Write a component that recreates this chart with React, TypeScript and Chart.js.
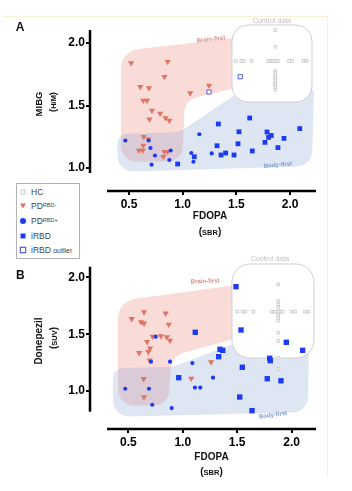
import React, { useEffect, useRef } from 'react';
import { Chart, registerables } from 'chart.js';

Chart.register(...registerables);

const FONT = "'Liberation Sans', Arial, Helvetica, sans-serif";
const BLUE = '#1d3cf2';
const SALMON = '#df7464';

const X_TICKS = [0.5, 1.0, 1.5, 2.0];
const Y_TICKS = [1.0, 1.5, 2.0];

// ---------- Panel A : MIBG vs FDOPA ----------
const A_PDNEG_X = [0.52, 0.86, 0.83, 0.605, 0.686, 1.245, 1.07, 0.633, 0.668, 0.714, 0.79, 0.69, 0.84, 0.875, 0.637, 0.68, 0.633, 0.593, 0.627, 0.83, 0.86, 0.82];
const A_PDNEG_Y = [1.84, 1.85, 1.73, 1.65, 1.64, 1.66, 1.60, 1.54, 1.54, 1.46, 1.435, 1.39, 1.40, 1.38, 1.25, 1.23, 1.18, 1.14, 1.14, 1.13, 1.13, 1.09];
const A_PDPOS_X = [0.466, 0.683, 0.70, 0.742, 0.71, 0.888, 0.876, 1.155, 1.08, 1.10, 1.27];
const A_PDPOS_Y = [1.22, 1.22, 1.16, 1.10, 1.027, 1.14, 1.064, 1.27, 1.12, 1.05, 1.117];
const A_IRBD_X = [0.953, 1.108, 1.332, 1.32, 1.357, 1.40, 1.524, 1.515, 1.478, 1.624, 1.648, 1.785, 1.825, 1.80, 1.766, 1.887, 1.943, 2.09];
const A_IRBD_Y = [1.032, 1.09, 1.352, 1.178, 1.104, 1.12, 1.29, 1.194, 1.104, 1.40, 1.136, 1.288, 1.26, 1.245, 1.205, 1.163, 1.237, 1.315];
const A_OUTLIER_X = [1.245, 1.536];
const A_OUTLIER_Y = [1.608, 1.73];
const A_HC_X = [1.494, 1.546, 1.568, 1.642, 1.797, 1.819, 1.841, 1.862, 1.885, 1.99, 2.018, 2.125, 2.155,
  1.862, 1.862, 1.862, 1.862, 1.862, 1.862, 1.862, 1.862, 1.862, 1.862, 1.862];
const A_HC_Y = [1.856, 1.856, 1.856, 1.856, 1.856, 1.856, 1.856, 1.856, 1.856, 1.856, 1.856, 1.856, 1.856,
  2.104, 1.97, 1.776, 1.758, 1.738, 1.72, 1.70, 1.68, 1.664, 1.646, 1.626];

// ---------- Panel B : Donepezil vs FDOPA ----------
const B_PDNEG_X = [0.531, 0.644, 0.617, 0.644, 0.843, 0.871, 0.724, 0.80, 0.853, 0.883, 0.672, 0.70, 0.684, 0.60, 0.697, 0.641, 0.644, 1.078, 1.26];
const B_PDNEG_Y = [1.635, 1.694, 1.606, 1.595, 1.683, 1.586, 1.48, 1.483, 1.474, 1.445, 1.433, 1.375, 1.345, 1.336, 1.27, 1.107, 0.946, 1.11, 1.254];
const B_PDPOS_X = [0.752, 0.708, 0.883, 1.088, 0.472, 0.69, 0.72, 0.898, 1.112, 1.161, 1.278];
const B_PDPOS_Y = [1.478, 1.258, 1.258, 1.246, 1.02, 1.02, 0.879, 0.85, 1.03, 1.03, 1.117];
const B_IRBD_X = [1.115, 0.963, 1.33, 1.342, 1.367, 1.489, 1.535, 1.547, 1.523, 1.636, 1.776, 1.798, 1.804, 1.902, 1.951, 2.101];
const B_IRBD_Y = [1.517, 1.117, 1.302, 1.367, 1.358, 1.918, 1.537, 1.209, 0.947, 0.827, 1.108, 1.288, 1.267, 1.09, 1.429, 1.358];
const B_HC_X = [1.501, 1.55, 1.572, 1.648, 1.817, 1.838, 1.857, 1.878, 1.899, 1.917, 2.0, 2.031, 2.123, 2.153,
  1.877, 1.877, 1.877, 1.877, 1.877, 1.877, 1.877, 1.877, 1.877, 1.877, 1.877];
const B_HC_Y = [1.698, 1.698, 1.698, 1.698, 1.698, 1.698, 1.698, 1.698, 1.698, 1.698, 1.698, 1.698, 1.698, 1.698,
  1.939, 1.792, 1.763, 1.733, 1.669, 1.645, 1.619, 1.513, 1.44, 1.293, 1.194];

// Shaded "Brain-first" / "Body-first" regions (data units)
const A_BRAIN_X = [0.4255, 1.6453, 1.6453, 1.0214, 0.9935, 0.4255];
const A_BRAIN_Y = [1.936, 2.056, 1.672, 1.544, 1.056, 1.048];
const A_BODY_X = [0.3883, 0.9749, 1.4963, 2.2225, 2.2039, 0.3976];
const A_BODY_Y = [1.272, 1.288, 1.592, 1.64, 1.016, 0.968];
const B_BRAIN_X = [0.4054, 1.6359, 1.6359, 0.9013, 0.8646, 0.4054];
const B_BRAIN_Y = [1.792, 1.951, 1.502, 1.308, 0.877, 0.868];
const B_BODY_X = [0.3595, 0.9013, 1.489, 2.159, 2.15, 0.3595];
const B_BODY_Y = [1.202, 1.211, 1.423, 1.493, 0.815, 0.771];

const pts = (xs: number[], ys: number[]) => xs.map((x, i) => ({ x, y: ys[i] }));

type Panel = {
  letter: string;
  canvasTop: number;
  canvasH: number;
  padTop: number;
  xAxisH: number;
  xMin: number; xMax: number; yMin: number; yMax: number;
  axisX: [number, number]; axisY: [number, number];
  yTitle: string; yUnit: string;
  pdNeg: any[]; pdPos: any[]; irbd: any[]; outlier: any[]; hc: any[];
  irbdR: number;
  brainX: number[]; brainY: number[]; bodyX: number[]; bodyY: number[];
  boxX: [number, number]; boxY: [number, number]; boxR: number;
  brainLbl: [number, number, number]; bodyLbl: [number, number, number]; ctrlLbl: [number, number];
  yTitlePos: [number, number, number, number, number, number];
  xTitlePos: [number, number, number];
  letterPos: [number, number];
};

const PANEL_A: Panel = {
  letter: 'A', canvasTop: 0, canvasH: 245, padTop: 15, xAxisH: 54,
  xMin: 0.1369, xMax: 2.2412, yMin: 0.816, yMax: 2.224,
  axisX: [0.295, 2.241], axisY: [0.96, 2.104],
  yTitle: 'MIBG', yUnit: 'H/M',
  pdNeg: pts(A_PDNEG_X, A_PDNEG_Y), pdPos: pts(A_PDPOS_X, A_PDPOS_Y), irbd: pts(A_IRBD_X, A_IRBD_Y),
  outlier: pts(A_OUTLIER_X, A_OUTLIER_Y), hc: pts(A_HC_X, A_HC_Y), irbdR: 3.4,
  brainX: A_BRAIN_X, brainY: A_BRAIN_Y, bodyX: A_BODY_X, bodyY: A_BODY_Y,
  boxX: [1.459, 2.204], boxY: [1.528, 2.144], boxR: 16,
  brainLbl: [1.2635, 2.03, -6], bodyLbl: [1.887, 1.024, -5], ctrlLbl: [1.831, 2.172],
  yTitlePos: [38.5, 104, 53, 102, 9.5, 7.5],
  xTitlePos: [210, 215.5, 231.5],
  letterPos: [20, 26.5],
};

const PANEL_B: Panel = {
  letter: 'B', canvasTop: 245, canvasH: 246, padTop: 10, xAxisH: 62,
  xMin: 0.1483, xMax: 2.2236, yMin: 0.6655, yMax: 2.1972,
  axisX: [0.305, 2.224], axisY: [0.818, 2.094],
  yTitle: 'Donepezil', yUnit: 'SUV',
  pdNeg: pts(B_PDNEG_X, B_PDNEG_Y), pdPos: pts(B_PDPOS_X, B_PDPOS_Y), irbd: pts(B_IRBD_X, B_IRBD_Y),
  outlier: [], hc: pts(B_HC_X, B_HC_Y), irbdR: 3.8,
  brainX: B_BRAIN_X, brainY: B_BRAIN_Y, bodyX: B_BODY_X, bodyY: B_BODY_Y,
  boxX: [1.452, 2.205], boxY: [1.29, 2.118], boxR: 18,
  brainLbl: [1.205, 1.966, -2], bodyLbl: [1.829, 0.789, -8], ctrlLbl: [1.801, 2.158],
  yTitlePos: [38, 96, 53, 93, 10, 7.5],
  xTitlePos: [211.5, 211.7, 226.7],
  letterPos: [20.3, 29.5],
};

const BRAIN_RADII = [20, 4, 4, 16, 14, 16];
const BODY_RADII = [10, 18, 16, 4, 16, 16];

function roundedPoly(ctx: CanvasRenderingContext2D, p: number[][], radii: number[]) {
  const n = p.length;
  const s = [(p[n - 1][0] + p[0][0]) / 2, (p[n - 1][1] + p[0][1]) / 2];
  ctx.beginPath();
  ctx.moveTo(s[0], s[1]);
  for (let i = 0; i < n; i++) {
    const a = p[i];
    const b = p[(i + 1) % n];
    ctx.arcTo(a[0], a[1], b[0], b[1], radii[i]);
  }
  ctx.closePath();
}

function drawRuns(ctx: CanvasRenderingContext2D, runs: [string, number][], cx: number, cy: number, rot: number) {
  ctx.save();
  ctx.translate(cx, cy);
  ctx.rotate(rot);
  let total = 0;
  const widths = runs.map(([t, s]) => {
    ctx.font = `bold ${s}px ${FONT}`;
    const w = ctx.measureText(t).width;
    total += w;
    return w;
  });
  const maxS = Math.max(...runs.map((r) => r[1]));
  let xx = -total / 2;
  ctx.textAlign = 'left';
  ctx.textBaseline = 'alphabetic';
  ctx.fillStyle = '#111';
  runs.forEach(([t, s], i) => {
    ctx.font = `bold ${s}px ${FONT}`;
    ctx.fillText(t, xx, maxS * 0.36);
    xx += widths[i];
  });
  ctx.restore();
}

function makeDecor(p: Panel) {
  return {
    id: 'decor' + p.letter,
    beforeDatasetsDraw(chart: any) {
      const { ctx } = chart;
      const xs = chart.scales.x;
      const ys = chart.scales.y;
      const X = (v: number) => xs.getPixelForValue(v);
      const Y = (v: number) => ys.getPixelForValue(v);
      ctx.save();
      roundedPoly(ctx, p.brainX.map((v, i) => [X(v), Y(p.brainY[i])]), BRAIN_RADII);
      ctx.fillStyle = 'rgba(235,125,115,0.28)';
      ctx.fill();
      roundedPoly(ctx, p.bodyX.map((v, i) => [X(v), Y(p.bodyY[i])]), BODY_RADII);
      ctx.fillStyle = 'rgba(130,160,210,0.26)';
      ctx.fill();
      // control-data inset
      const bx0 = X(p.boxX[0]);
      const bx1 = X(p.boxX[1]);
      const by0 = Y(p.boxY[1]);
      const by1 = Y(p.boxY[0]);
      ctx.beginPath();
      (ctx as any).roundRect(bx0, by0, bx1 - bx0, by1 - by0, p.boxR);
      ctx.fillStyle = '#ffffff';
      ctx.fill();
      ctx.strokeStyle = '#cfcfcf';
      ctx.lineWidth = 1;
      ctx.stroke();
      // annotations
      ctx.textAlign = 'center';
      ctx.textBaseline = 'middle';
      ctx.font = `normal 7px ${FONT}`;
      ctx.fillStyle = '#bdbdbd';
      ctx.fillText('Control data', X(p.ctrlLbl[0]), Y(p.ctrlLbl[1]));
      const lbl = (t: string, l: [number, number, number], c: string) => {
        ctx.save();
        ctx.translate(X(l[0]), Y(l[1]));
        ctx.rotate((l[2] * Math.PI) / 180);
        ctx.font = `bold 6px ${FONT}`;
        ctx.fillStyle = c;
        ctx.fillText(t, 0, 0);
        ctx.restore();
      };
      lbl('Brain-first', p.brainLbl, '#d98a84');
      lbl('Body-first', p.bodyLbl, '#7d98cc');
      ctx.restore();
    },
    afterDraw(chart: any) {
      const { ctx, chartArea } = chart;
      const xs = chart.scales.x;
      const ys = chart.scales.y;
      ctx.save();
      ctx.strokeStyle = '#000';
      ctx.lineWidth = 2.5;
      ctx.beginPath();
      ctx.moveTo(chartArea.left, ys.getPixelForValue(p.axisY[1]));
      ctx.lineTo(chartArea.left, ys.getPixelForValue(p.axisY[0]));
      ctx.stroke();
      ctx.beginPath();
      ctx.moveTo(xs.getPixelForValue(p.axisX[0]), chartArea.bottom);
      ctx.lineTo(xs.getPixelForValue(p.axisX[1]), chartArea.bottom);
      ctx.stroke();
      const [tx1, ty1, tx2, ty2, ts, us] = p.yTitlePos;
      drawRuns(ctx, [[p.yTitle, ts]], tx1, ty1, -Math.PI / 2);
      drawRuns(ctx, [['(', ts], [p.yUnit, us], [')', ts]], tx2, ty2, -Math.PI / 2);
      const [xx, xy1, xy2] = p.xTitlePos;
      drawRuns(ctx, [['FDOPA', 10]], xx, xy1, 0);
      drawRuns(ctx, [['(', 10], ['SBR', 7.5], [')', 10]], xx, xy2, 0);
      drawRuns(ctx, [[p.letter, 12]], p.letterPos[0], p.letterPos[1], 0);
      ctx.restore();
    },
  };
}

function PanelChart({ p }: { p: Panel }) {
  const ref = useRef<HTMLCanvasElement>(null);
  useEffect(() => {
    const tickFont = { family: FONT, size: 12, weight: 'bold' as const };
    const chart = new Chart(ref.current!, {
      type: 'scatter',
      data: {
        datasets: [
          { label: 'HC', data: p.hc, pointStyle: 'rect', pointRadius: 1.9, backgroundColor: '#ffffff', borderColor: '#c2c2c2', borderWidth: 0.8, order: 5 },
          { label: 'PD RBD-', data: p.pdNeg, pointStyle: 'triangle', rotation: 180, pointRadius: 3.6, backgroundColor: SALMON, borderColor: SALMON, borderWidth: 0, order: 4 },
          { label: 'PD RBD+', data: p.pdPos, pointStyle: 'circle', pointRadius: 2.1, backgroundColor: BLUE, borderColor: BLUE, borderWidth: 0, order: 3 },
          { label: 'iRBD', data: p.irbd, pointStyle: 'rect', pointRadius: p.irbdR, backgroundColor: BLUE, borderColor: BLUE, borderWidth: 0, order: 2 },
          { label: 'iRBD outlier', data: p.outlier, pointStyle: 'rect', pointRadius: 3, backgroundColor: '#ffffff', borderColor: '#5560e0', borderWidth: 1, order: 1 },
        ] as any,
      },
      options: {
        responsive: false,
        animation: false,
        devicePixelRatio: 1,
        layout: { padding: { left: 0, right: 36, top: p.padTop, bottom: 0 } },
        plugins: { legend: { display: false }, tooltip: { enabled: false } },
        elements: { point: { hoverRadius: 0 } },
        scales: {
          x: {
            type: 'linear',
            min: p.xMin,
            max: p.xMax,
            border: { display: false },
            grid: { display: true, drawOnChartArea: false, drawTicks: true, tickLength: 4, color: '#000', lineWidth: 2 },
            ticks: { font: tickFont, color: '#000', padding: 2, autoSkip: false, maxRotation: 0, callback: (v: any) => Number(v).toFixed(1) },
            afterBuildTicks: (s: any) => { s.ticks = X_TICKS.map((v) => ({ value: v })); },
            afterFit: (s: any) => { s.height = p.xAxisH; },
          },
          y: {
            type: 'linear',
            min: p.yMin,
            max: p.yMax,
            border: { display: false },
            grid: { display: true, drawOnChartArea: false, drawTicks: true, tickLength: 4, color: '#000', lineWidth: 2 },
            ticks: { font: tickFont, color: '#000', padding: 1, autoSkip: false, callback: (v: any) => Number(v).toFixed(1) },
            afterBuildTicks: (s: any) => { s.ticks = Y_TICKS.map((v) => ({ value: v })); },
            afterFit: (s: any) => { s.width = 90; },
          },
        },
      } as any,
      plugins: [makeDecor(p)],
    });
    return () => chart.destroy();
  }, [p]);
  return (
    <canvas
      ref={ref}
      width={352}
      height={p.canvasH}
      style={{ position: 'absolute', left: 0, top: p.canvasTop, width: 352, height: p.canvasH }}
    />
  );
}

const LEGEND_ROWS = ['HC', 'PD-', 'PD+', 'iRBD', 'outlier'];
const LEGEND_Y = [192.3, 205.5, 220.7, 235.7, 250.3];
const LEGEND_TEXT_COLOR = '#444444';

function Marker({ kind }: { kind: string }) {
  let shape: any = null;
  if (kind === 'HC') shape = <rect x={3} y={3} width={4} height={4} fill="#fff" stroke="#b9b9b9" strokeWidth={0.8} />;
  else if (kind === 'PD-') shape = <polygon points="2,2.5 8,2.5 5,7.5" fill={SALMON} />;
  else if (kind === 'PD+') shape = <circle cx={5} cy={5} r={3} fill={BLUE} />;
  else if (kind === 'iRBD') shape = <rect x={2.5} y={2.5} width={5} height={5} fill={BLUE} />;
  else shape = <rect x={2.3} y={2.3} width={5.4} height={5.4} fill="#fff" stroke="#4f5ee0" strokeWidth={1.2} />;
  return <svg width={10} height={10} style={{ position: 'absolute', left: 1.8, top: 1 }}>{shape}</svg>;
}

function LegendText({ kind }: { kind: string }) {
  const sup = { fontSize: 5.5, verticalAlign: 'top', position: 'relative' as const, top: -1, color: LEGEND_TEXT_COLOR };
  const base = { color: LEGEND_TEXT_COLOR };
  if (kind === 'HC') return <span style={base}>HC</span>;
  if (kind === 'PD-') return <span style={base}>PD<span style={sup}>RBD-</span></span>;
  if (kind === 'PD+') return <span style={base}>PD<span style={sup}>RBD+</span></span>;
  if (kind === 'iRBD') return <span style={base}>iRBD</span>;
  return <span style={base}>iRBD <span style={{ fontSize: 7, color: LEGEND_TEXT_COLOR }}>outlier</span></span>;
}

export default function App() {
  return (
    <div style={{ position: 'absolute', left: 0, top: 0, width: 352, height: 491, background: '#fff', overflow: 'hidden' }}>
      <div style={{ position: 'absolute', left: 3, top: 16, width: 324, height: 460, borderTop: '1px solid #fbf1d2', borderRight: '1px solid #fbf1d2' }} />
      <PanelChart p={PANEL_A} />
      <PanelChart p={PANEL_B} />
      <div
        style={{
          position: 'absolute', left: 15.5, top: 182.5, width: 62, height: 74,
          border: '1px solid #b3b3b3', background: '#fff', fontFamily: FONT, color: LEGEND_TEXT_COLOR, zIndex: 2,
        }}
      >
        {LEGEND_ROWS.map((k, i) => (
          <div key={k} style={{ position: 'absolute', left: 0, top: LEGEND_Y[i] - 183.5 - 6, width: 62, height: 12 }}>
            <Marker kind={k} />
            <div style={{ position: 'absolute', left: 14.5, top: 0, height: 12, lineHeight: '12px', fontSize: 8.5, whiteSpace: 'nowrap', color: LEGEND_TEXT_COLOR }}>
              <LegendText kind={k} />
            </div>
          </div>
        ))}
      </div>
    </div>
  );
}
